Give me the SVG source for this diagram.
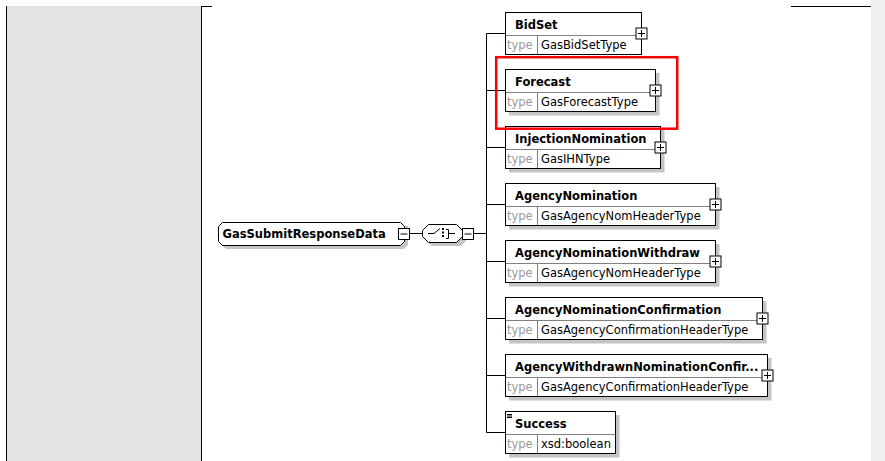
<svg xmlns="http://www.w3.org/2000/svg" width="885" height="461" viewBox="0 0 885 461">
<style>
.box{fill:#fff;stroke:#000;stroke-width:1}
.shd{fill:#c4c4c4}
.div{stroke:#808080;stroke-width:1}
.name{font-family:"DejaVu Sans",Verdana,sans-serif;font-size:11.5px;font-weight:bold;fill:#000}
.tl{font-family:"DejaVu Sans",Verdana,sans-serif;font-size:11.5px;fill:#9a9a9a}
.tv{font-family:"DejaVu Sans",Verdana,sans-serif;font-size:11.5px;fill:#000}
.pm{fill:#fff;stroke:#000;stroke-width:1}
.ln{stroke:#000;stroke-width:1;fill:none}
</style>
<defs>
<g id="plus"><rect class="pm" x="-5.5" y="-5.5" width="11" height="11"/><path class="ln" d="M-3.5 0H3.5M0 -3.5V3.5"/></g>
<g id="minus"><rect class="pm" x="-5.5" y="-5.5" width="11" height="11"/><path class="ln" d="M-3.5 0H3.5"/></g>
</defs>
<rect width="885" height="461" fill="#fff"/>
<rect x="7" y="6" width="194.5" height="455" fill="#e4e4e4"/>
<rect x="871" y="0" width="14" height="461" fill="#f0f0f0"/>
<path class="ln" d="M6.5 6V461M201.5 6V461M201 6.5H212M791 6.5H871"/>

<g id="connectors">
<path class="ln" d="M410 233.5H422M474 233.5H486.5M486.5 33.5V432.5M486.5 33.5H505M486.5 90.5H505M486.5 147.5H505M486.5 204.5H505M486.5 261.5H505M486.5 318.5H505M486.5 375.5H505M486.5 432.5H505"/>
</g>

<g id="root">
<path class="shd" d="M226 226H408V245L404 249H226L222 245Z"/>
<path class="box" d="M222.5 222.5H400.5L404.5 226.5V241.5L400.5 245.5H222.5L218.5 241.5V226.5Z"/>
<text class="name" x="222.5" y="238">GasSubmitResponseData</text>
<use href="#minus" x="404" y="234"/>
</g>

<g id="choice">
<path class="shd" d="M432 228H461L466 233V241L461 246H432L426 241V233Z"/>
<path class="box" d="M428.5 224.5H456.5L462.5 230.5V236.5L456.5 242.5H428.5L422.5 236.5V230.5Z"/>
<path class="ln" d="M428 233.5H434L440 228.5M446 229.5H448.5V238.5H446M448.5 233.5H455"/>
<rect x="442" y="228" width="2" height="2" fill="#000"/>
<rect x="442" y="231.5" width="2" height="2" fill="#000"/>
<rect x="442" y="235" width="2" height="2" fill="#000"/>
<use href="#minus" x="468" y="234"/>
</g>

<g id="n-bidset" transform="translate(505,12)">
<rect class="box" x="0.5" y="0.5" width="136" height="42"/>
<path class="div" d="M1 23.5H136M32.5 24V42"/>
<text class="name" x="10" y="16.5">BidSet</text>
<text class="tl" x="2" y="37">type</text>
<text class="tv" x="36" y="37">GasBidSetType</text>
<use href="#plus" x="136.5" y="21.5"/>
</g>

<g id="n-forecast" transform="translate(505,69)">
<rect class="shd" x="4" y="4" width="150.5" height="42.5"/>
<rect class="box" x="0.5" y="0.5" width="150" height="42"/>
<path class="div" d="M1 23.5H150M32.5 24V42"/>
<text class="name" x="10" y="16.5">Forecast</text>
<text class="tl" x="2" y="37">type</text>
<text class="tv" x="36" y="37">GasForecastType</text>
<use href="#plus" x="150.5" y="21.5"/>
</g>

<g id="n-injection" transform="translate(505,126)">
<rect class="shd" x="4" y="4" width="155.5" height="42.5"/>
<rect class="box" x="0.5" y="0.5" width="155" height="42"/>
<path class="div" d="M1 23.5H155M32.5 24V42"/>
<text class="name" x="10" y="16.5">InjectionNomination</text>
<text class="tl" x="2" y="37">type</text>
<text class="tv" x="36" y="37">GasIHNType</text>
<use href="#plus" x="155.5" y="21.5"/>
</g>

<g id="n-agencynom" transform="translate(505,183)">
<rect class="shd" x="4" y="4" width="210.5" height="42.5"/>
<rect class="box" x="0.5" y="0.5" width="210" height="42"/>
<path class="div" d="M1 23.5H210M32.5 24V42"/>
<text class="name" x="10" y="16.5">AgencyNomination</text>
<text class="tl" x="2" y="37">type</text>
<text class="tv" x="36" y="37">GasAgencyNomHeaderType</text>
<use href="#plus" x="210.5" y="21.5"/>
</g>

<g id="n-agencynomwd" transform="translate(505,240)">
<rect class="shd" x="4" y="4" width="210.5" height="42.5"/>
<rect class="box" x="0.5" y="0.5" width="210" height="42"/>
<path class="div" d="M1 23.5H210M32.5 24V42"/>
<text class="name" x="10" y="16.5">AgencyNominationWithdraw</text>
<text class="tl" x="2" y="37">type</text>
<text class="tv" x="36" y="37">GasAgencyNomHeaderType</text>
<use href="#plus" x="210.5" y="21.5"/>
</g>

<g id="n-agencynomconf" transform="translate(505,297)">
<rect class="shd" x="4" y="4" width="257.5" height="42.5"/>
<rect class="box" x="0.5" y="0.5" width="257" height="42"/>
<path class="div" d="M1 23.5H257M32.5 24V42"/>
<text class="name" x="10" y="16.5">AgencyNominationConfirmation</text>
<text class="tl" x="2" y="37">type</text>
<text class="tv" x="36" y="37">GasAgencyConfirmationHeaderType</text>
<use href="#plus" x="257.5" y="21.5"/>
</g>

<g id="n-agencywdconf" transform="translate(505,354)">
<rect class="shd" x="4" y="4" width="262.5" height="42.5"/>
<rect class="box" x="0.5" y="0.5" width="262" height="42"/>
<path class="div" d="M1 23.5H262M32.5 24V42"/>
<text class="name" x="10" y="16.5">AgencyWithdrawnNominationConfir...</text>
<text class="tl" x="2" y="37">type</text>
<text class="tv" x="36" y="37">GasAgencyConfirmationHeaderType</text>
<use href="#plus" x="262.5" y="21.5"/>
</g>

<g id="n-success" transform="translate(505,411)">
<rect class="shd" x="4" y="4" width="110.5" height="42.5"/>
<rect class="box" x="0.5" y="0.5" width="110" height="42"/>
<path class="div" d="M1 23.5H110M32.5 24V42"/>
<path class="ln" d="M2 3.5H7M2 5H7M2 6.5H7" stroke-width="0.8"/>
<text class="name" x="10" y="16.5">Success</text>
<text class="tl" x="2" y="37">type</text>
<text class="tv" x="36" y="37">xsd:boolean</text>
</g>

<rect x="496.2" y="57.2" width="181" height="71.5" fill="none" stroke="#f00" stroke-width="2.5"/>
</svg>
